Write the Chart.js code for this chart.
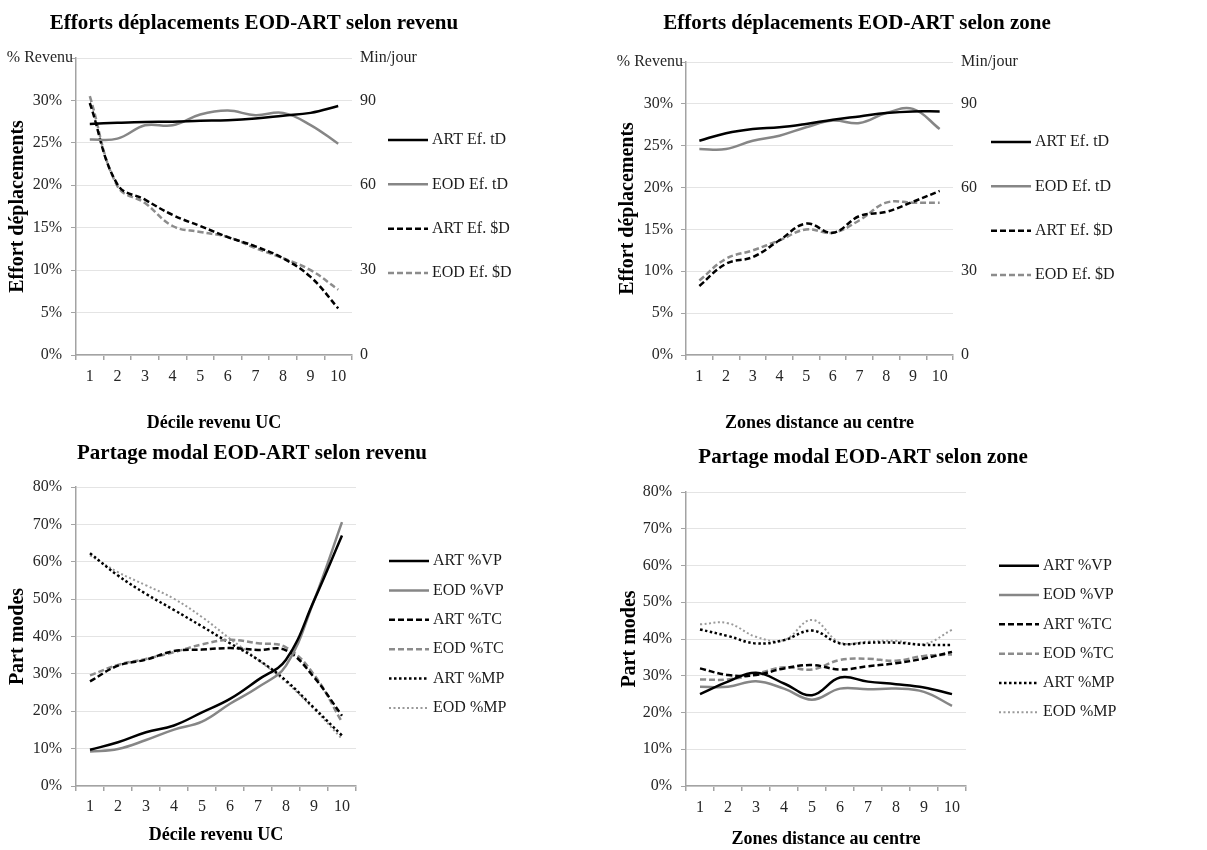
<!DOCTYPE html>
<html><head><meta charset="utf-8">
<script src="https://cdn.jsdelivr.net/npm/chart.js@4.4.1/dist/chart.umd.min.js"></script>
<style>
html,body{margin:0;padding:0;background:#fff;width:1207px;height:850px;overflow:hidden;position:relative;}
canvas{position:absolute;}
</style></head><body>
<canvas id="c1" width="600" height="440" style="left:0;top:0;width:600px;height:440px"></canvas>
<canvas id="c2" width="607" height="440" style="left:600px;top:0;width:607px;height:440px"></canvas>
<canvas id="c3" width="600" height="420" style="left:0;top:430px;width:600px;height:420px"></canvas>
<canvas id="c4" width="607" height="420" style="left:600px;top:430px;width:607px;height:420px"></canvas>
<script>
// ---------- DATA ----------
const categories = ['1','2','3','4','5','6','7','8','9','10'];

// Efforts selon revenu: time effort in min/jour (right axis), money effort in % revenu (left axis)
const revArtTD = [81.7, 82.1, 82.4, 82.5, 82.8, 83.0, 83.6, 84.6, 85.6, 88.0];
const revEodTD = [76.2, 76.5, 81.2, 81.2, 85.0, 86.4, 84.8, 85.6, 81.3, 74.7];
const revArtSD = [29.7, 20.1, 18.3, 16.5, 15.2, 13.9, 12.8, 11.4, 9.2, 5.5];
const revEodSD = [30.5, 19.9, 17.9, 15.2, 14.5, 13.9, 12.6, 11.4, 10.0, 7.7];

// Efforts selon zone
const zoneArtTD = [76.8, 79.5, 81.0, 81.6, 82.8, 84.3, 85.5, 86.7, 87.3, 87.3];
const zoneEodTD = [73.8, 73.8, 76.8, 78.6, 81.6, 84.0, 83.1, 86.7, 88.2, 81.0];
const zoneArtSD = [8.25, 10.9, 11.7, 13.7, 15.7, 14.6, 16.6, 17.1, 18.3, 19.6];
const zoneEodSD = [8.9, 11.5, 12.5, 13.7, 15.0, 14.6, 16.1, 18.2, 18.2, 18.2];

// Partage modal selon revenu (%)
const revArtVP = [9.7, 11.7, 14.4, 16.2, 19.7, 23.3, 28.4, 33.8, 49.6, 67.0];
const revEodVP = [9.2, 9.9, 12.3, 15.1, 17.2, 22.0, 26.4, 32.2, 49.6, 70.6];
const revArtTC = [28.0, 32.2, 33.8, 36.1, 36.5, 36.9, 36.4, 36.3, 29.1, 18.8];
const revEodTC = [29.6, 32.4, 34.0, 35.8, 37.9, 39.1, 38.2, 37.1, 29.8, 17.1];
const revArtMP = [62.3, 56.3, 51.4, 47.1, 42.7, 38.2, 33.8, 28.2, 20.9, 13.5];
const revEodMP = [61.7, 57.2, 53.7, 50.1, 45.2, 39.4, 33.8, 27.8, 20.6, 12.6];

// Partage modal selon zone (%)
const zoneArtVP = [25.0, 28.4, 30.8, 27.9, 24.7, 29.5, 28.4, 27.7, 26.8, 25.0];
const zoneEodVP = [27.0, 27.0, 28.5, 26.5, 23.5, 26.5, 26.3, 26.5, 25.6, 21.8];
const zoneArtTC = [32.0, 30.2, 30.2, 32.0, 32.9, 31.7, 32.6, 33.4, 34.7, 36.5];
const zoneEodTC = [29.0, 29.0, 30.5, 32.3, 31.7, 34.3, 34.6, 34.1, 35.4, 35.8];
const zoneArtMP = [42.6, 40.8, 38.8, 39.7, 42.3, 38.8, 39.0, 39.0, 38.4, 38.4];
const zoneEodMP = [44.0, 44.3, 40.6, 39.7, 45.2, 39.0, 39.3, 39.5, 38.6, 42.5];

// ---------- STYLE ----------
Chart.defaults.font.family = "'Liberation Serif', 'DejaVu Serif', serif";
Chart.defaults.color = '#262626';
const AXIS = '#a3a3a3', GRID = '#e4e4e4', TICK = '#262626';
const sArtSolid = {borderColor:'#000000', borderWidth:2.5, borderDash:[]};
const sEodSolid = {borderColor:'#868686', borderWidth:2.5, borderDash:[]};
const sArtDash  = {borderColor:'#000000', borderWidth:2.5, borderDash:[6,3]};
const sEodDash  = {borderColor:'#8c8c8c', borderWidth:2.5, borderDash:[6,3]};
const sArtDot   = {borderColor:'#000000', borderWidth:2.5, borderDash:[2.5,2.5]};
const sEodDot   = {borderColor:'#9a9a9a', borderWidth:2, borderDash:[2,2.5]};

function ds(label, data, style, axis) {
  return Object.assign({label, data, yAxisID: axis || 'y', pointRadius: 0, pointHoverRadius: 0,
    tension: 0.4, fill: false, borderCapStyle: 'butt'}, style);
}

const sideLegend = {
  id: 'sideLegend',
  afterDraw(chart, args, opts) {
    const {ctx, chartArea} = chart;
    const list = chart.data.datasets;
    const cy = (chartArea.top + chartArea.bottom) / 2 + (opts.dy || 0);
    const x0 = chartArea.right + opts.offset;
    ctx.save();
    ctx.font = "16px 'Liberation Serif', serif";
    ctx.textBaseline = 'middle';
    ctx.textAlign = 'left';
    ctx.fillStyle = '#1a1a1a';
    list.forEach((d, i) => {
      const y = cy + (i - (list.length - 1) / 2) * opts.spacing;
      ctx.beginPath();
      ctx.setLineDash(d.borderDash || []);
      ctx.strokeStyle = d.borderColor;
      ctx.lineWidth = d.borderWidth;
      ctx.moveTo(x0, y);
      ctx.lineTo(x0 + opts.len, y);
      ctx.stroke();
      ctx.setLineDash([]);
      ctx.fillText(d.label, x0 + opts.len + opts.gap, y);
    });
    ctx.restore();
  }
};

const axisUnit = {
  id: 'axisUnit',
  afterDraw(chart, args, opts) {
    if (!opts || !opts.text) return;
    const {ctx, chartArea} = chart;
    const y = chart.scales.y.getPixelForValue(opts.value);
    ctx.save();
    ctx.font = "16px 'Liberation Serif', serif";
    ctx.textBaseline = 'middle';
    ctx.textAlign = 'right';
    ctx.fillStyle = TICK;
    ctx.fillText(opts.text, chartArea.left - 3, y);
    ctx.restore();
  }
};

function makeChart(id, p) {
  const y1 = p.y1Max ? {
    position: 'right', min: 0, max: p.y1Max,
    grid: {display: false, drawTicks: false, drawOnChartArea: false},
    border: {display: false},
    ticks: {stepSize: p.y1Step, padding: 8, font: {size: 16}, color: TICK, autoSkip: false,
      callback: v => v === p.y1Max ? p.y1Unit : (v % p.y1Label === 0 ? String(v) : '')},
    afterFit: s => { s.width = p.y1Width; }
  } : {
    position: 'right', display: true,
    grid: {display: false, drawTicks: false, drawOnChartArea: false},
    border: {display: false},
    ticks: {display: false},
    afterFit: s => { s.width = p.y1Width; }
  };
  return new Chart(document.getElementById(id), {
    type: 'line',
    data: {labels: categories, datasets: p.datasets},
    plugins: [sideLegend, axisUnit],
    options: {
      responsive: false, animation: false, devicePixelRatio: 1,
      layout: {padding: {left: 0, top: 0, bottom: 0, right: p.padRight}},
      plugins: {
        legend: {display: false},
        tooltip: {enabled: false},
        title: {display: true, text: p.title, color: '#000',
          font: {size: 21, weight: 'bold'}, padding: {top: p.tTop, bottom: p.tBottom}},
        sideLegend: {offset: p.legOffset, spacing: p.legSpacing, len: 40, gap: 4, dy: p.legDy || 0},
        axisUnit: p.unit ? {text: p.unit, value: p.yMax} : {}
      },
      scales: {
        x: {
          type: 'category', offset: true,
          grid: {offset: true, drawOnChartArea: false, drawTicks: true, tickLength: 5, tickColor: AXIS, lineWidth: 1.5},
          border: {color: AXIS, width: 1.5},
          ticks: {font: {size: 16}, padding: p.xTickPad, maxRotation: 0, autoSkip: false, color: TICK},
          title: {display: true, text: p.xTitle, color: '#000', font: {size: 18, weight: 'bold'},
            padding: {top: 0, bottom: p.xTitlePad}},
          afterFit: s => { s.height = p.xHeight; }
        },
        y: {
          min: 0, max: p.yMax,
          ticks: {stepSize: p.yStep, padding: p.yTickPad, font: {size: 16}, color: TICK, autoSkip: false,
            callback: v => (p.unit && v === p.yMax) ? '' : v + '%'},
          grid: {color: GRID, lineWidth: 1, tickColor: AXIS, tickLength: 5, drawTicks: true},
          border: {color: AXIS, width: 1.5},
          title: {display: true, text: p.yTitle, color: '#000', font: {size: 20, weight: 'bold'},
            padding: {top: p.yTitlePad, bottom: 0}},
          afterFit: s => { s.width = p.yWidth; }
        },
        y1: y1
      }
    }
  });
}

makeChart('c1', {
  title: 'Efforts déplacements EOD-ART selon revenu',
  xTitle: 'Décile revenu UC', yTitle: 'Effort déplacements',
  datasets: [
    ds('ART Ef. tD', revArtTD, sArtSolid, 'y1'),
    ds('EOD Ef. tD', revEodTD, sEodSolid, 'y1'),
    ds('ART Ef. $D', revArtSD, sArtDash),
    ds('EOD Ef. $D', revEodSD, sEodDash)
  ],
  yMax: 35, yStep: 5, unit: '% Revenu',
  y1Max: 105, y1Step: 15, y1Label: 30, y1Unit: 'Min/jour', y1Width: 156,
  padRight: 92, tTop: 11, tBottom: 21.8,
  yWidth: 76, yTitlePad: 6, yTickPad: 9,
  xHeight: 85, xTickPad: 7, xTitlePad: 6.2,
  legOffset: 36, legSpacing: 44.3
});

makeChart('c2', {
  title: 'Efforts déplacements EOD-ART selon zone',
  xTitle: 'Zones distance au centre', yTitle: 'Effort déplacements',
  datasets: [
    ds('ART Ef. tD', zoneArtTD, sArtSolid, 'y1'),
    ds('EOD Ef. tD', zoneEodTD, sEodSolid, 'y1'),
    ds('ART Ef. $D', zoneArtSD, sArtDash),
    ds('EOD Ef. $D', zoneEodSD, sEodDash)
  ],
  yMax: 35, yStep: 5, unit: '% Revenu',
  y1Max: 105, y1Step: 15, y1Label: 30, y1Unit: 'Min/jour', y1Width: 161,
  padRight: 93, tTop: 11, tBottom: 25.8,
  yWidth: 86, yTitlePad: 16, yTickPad: 8,
  xHeight: 85, xTickPad: 7, xTitlePad: 6.2,
  legOffset: 38, legSpacing: 44.3
});

makeChart('c3', {
  title: 'Partage modal EOD-ART selon revenu',
  xTitle: 'Décile revenu UC', yTitle: 'Part modes',
  datasets: [
    ds('ART %VP', revArtVP, sArtSolid),
    ds('EOD %VP', revEodVP, sEodSolid),
    ds('ART %TC', revArtTC, sArtDash),
    ds('EOD %TC', revEodTC, sEodDash),
    ds('ART %MP', revArtMP, sArtDot),
    ds('EOD %MP', revEodMP, sEodDot)
  ],
  yMax: 80, yStep: 10,
  y1Width: 148,
  padRight: 96, tTop: 11, tBottom: 20.8,
  yWidth: 76, yTitlePad: 6, yTickPad: 9,
  xHeight: 64, xTickPad: 6.4, xTitlePad: 4.2,
  legOffset: 33, legSpacing: 29.4, legDy: -2
});

makeChart('c4', {
  title: 'Partage modal EOD-ART selon zone',
  xTitle: 'Zones distance au centre', yTitle: 'Part modes',
  datasets: [
    ds('ART %VP', zoneArtVP, sArtSolid),
    ds('EOD %VP', zoneEodVP, sEodSolid),
    ds('ART %TC', zoneArtTC, sArtDash),
    ds('EOD %TC', zoneEodTC, sEodDash),
    ds('ART %MP', zoneArtMP, sArtDot),
    ds('EOD %MP', zoneEodMP, sEodDot)
  ],
  yMax: 80, yStep: 10,
  y1Width: 160,
  padRight: 81, tTop: 15, tBottom: 21.8,
  yWidth: 86, yTitlePad: 18, yTickPad: 9,
  xHeight: 64, xTickPad: 7.4, xTitlePad: 0,
  legOffset: 33, legSpacing: 29.3
});
</script>
</body></html>
